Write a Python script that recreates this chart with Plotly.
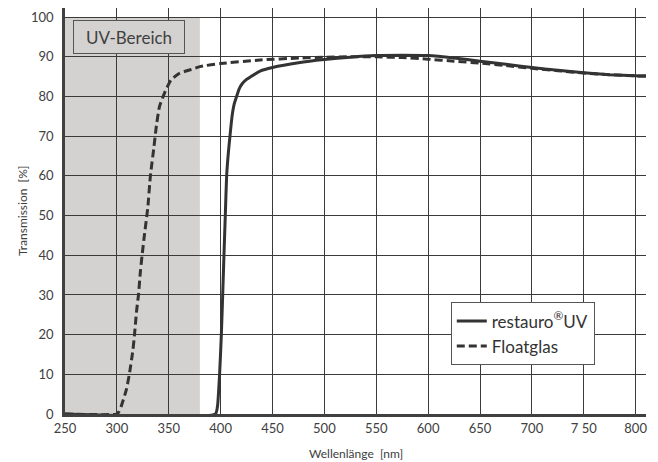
import plotly.graph_objects as go

# Wavelength (nm) / transmission (%)
uv_nm = [250, 395, 397, 399, 400.7, 402, 403.2, 404.5, 405.8, 407.5, 409, 411, 413, 415.4, 418, 420.8, 425, 429, 438, 450,
         475, 500, 525, 550, 575, 600, 625, 650, 675, 700, 725, 750, 775, 800, 810]
uv_t = [0, 0, 2, 10, 20, 30, 40, 50, 60, 66, 70, 75, 78, 80, 82, 83.2, 84.3, 85, 86.4, 87.3,
        88.5, 89.3, 89.9, 90.3, 90.4, 90.3, 89.7, 88.9, 88.1, 87.3, 86.6, 86.0, 85.5, 85.2, 85.2]

float_nm = [250, 300, 302, 304, 309, 312, 315.4, 317, 319, 320.8, 322.7, 324.3, 326.5, 329.8, 332.3, 335.6, 337.8, 341,
            345.8, 352, 360, 371.5, 381, 400, 438, 476, 500, 525, 550, 575, 600, 625, 650, 675, 700, 725, 750, 775, 800, 810]
float_t = [0, 0, 0.6, 1.8, 6, 10, 16, 20, 26, 30, 36, 40, 45, 52, 60, 67, 72, 77.4,
           80.8, 84.1, 85.8, 86.8, 87.6, 88.3, 89.2, 89.7, 89.9, 90.0, 90.0, 89.8, 89.4, 88.9, 88.4, 87.8, 87.1, 86.5, 85.9, 85.5, 85.2, 85.1]

x_ticks = [250, 300, 350, 400, 450, 500, 550, 600, 650, 700, 750, 800]
x_labels = ["250", "300", "350", "400", "450", "500", "550", "600", "650", "700", "7 50", "800"]
y_ticks = [0, 10, 20, 30, 40, 50, 60, 70, 80, 90, 100]

uv_range = [250, 380]

FONT = "Lato, 'Open Sans', sans-serif"
DARK = "#333333"
TXT = "#404040"

fig = go.Figure()
fig.add_trace(go.Scatter(x=uv_nm, y=uv_t, mode="lines", name="restauro<sup>®</sup>UV",
                         line=dict(color=DARK, width=3, shape="spline", smoothing=0.5)))
fig.add_trace(go.Scatter(x=float_nm, y=float_t, mode="lines", name="Floatglas",
                         line=dict(color=DARK, width=3, dash="8px,4px", shape="spline", smoothing=0.5)))

fig.add_shape(type="rect", xref="x", yref="y", x0=uv_range[0], x1=uv_range[1], y0=0, y1=100,
              fillcolor="#d3d2d1", line=dict(width=0), layer="below")

fig.add_annotation(x=311.5, y=95, xref="x", yref="y", text="UV-Bereich", showarrow=False,
                   font=dict(family=FONT, size=17, color=TXT), bgcolor="#d3d2d1",
                   bordercolor="#555555", borderwidth=1, borderpad=4, width=102, height=24)

fig.add_annotation(x=0.5, y=0, xref="paper", yref="paper", yshift=-39, text="Wellenlänge  [nm]",
                   showarrow=False, font=dict(family=FONT, size=12, color=TXT), yanchor="middle")
fig.add_annotation(x=0, y=0.5, xref="paper", yref="paper", xshift=-43, text="Transmission  [%]",
                   textangle=-90, showarrow=False, font=dict(family=FONT, size=12, color=TXT), xanchor="center")

fig.update_layout(
    width=650, height=454,
    margin=dict(l=57, r=12, t=0, b=48),
    paper_bgcolor="white", plot_bgcolor="white",
    font=dict(family=FONT, color=TXT),
    showlegend=True,
    legend=dict(x=0.664, y=0.275, xanchor="left", yanchor="top",
                bordercolor="#555555", borderwidth=1, bgcolor="white",
                font=dict(family=FONT, size=17, color=DARK), tracegroupgap=0,
                itemwidth=30),
)
fig.update_xaxes(range=[250, 810], tickvals=x_ticks, ticktext=x_labels, automargin=False,
                 showgrid=True, gridcolor="#3a3a3a", gridwidth=1,
                 showline=True, linecolor="#404040", linewidth=2.5,
                 zeroline=False, ticks="outside", ticklen=1, tickcolor="rgba(0,0,0,0)",
                 tickfont=dict(size=13, color=TXT))
fig.update_yaxes(range=[0, 102.3], tickvals=y_ticks, automargin=False,
                 showgrid=True, gridcolor="#3a3a3a", gridwidth=1,
                 showline=True, linecolor="#404040", linewidth=2.5,
                 zeroline=False, ticks="outside", ticklen=6, tickcolor="rgba(0,0,0,0)",
                 tickfont=dict(size=13, color=TXT))

fig.write_html("out.html")
